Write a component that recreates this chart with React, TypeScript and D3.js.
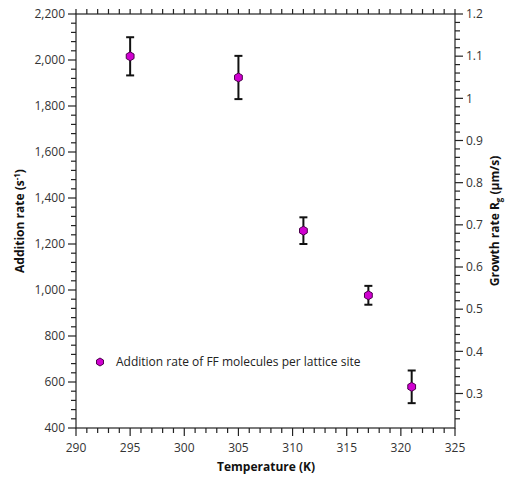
import React from "react";
import * as d3 from "d3";

const temperatures = [295, 305, 311, 317, 321];
const additionRates = [2016, 1924, 1258, 977, 579];
const errors = [83, 94, 58, 41, 71];
const legendLabel = "Addition rate of FF molecules per lattice site";
const xTicks = [290, 295, 300, 305, 310, 315, 320, 325];
const yTicks = [400, 600, 800, 1000, 1200, 1400, 1600, 1800, 2000, 2200];
const y2Ticks = [0.3, 0.4, 0.5, 0.6, 0.7, 0.8, 0.9, 1.0, 1.1, 1.2];

const W = 506, H = 478;
const L = 76, R = 455, T = 14, B = 428;

export default function App() {
  const x = d3.scaleLinear().domain([290, 325]).range([L, R]);
  const y = d3.scaleLinear().domain([400, 2200]).range([B, T]);
  const y2 = d3.scaleLinear().domain([400 * 1.2 / 2200, 1.2]).range([B, T]);
  const fmt = d3.format(",");
  const xMinor = d3.range(290, 325.01, 1);
  const yMinor = d3.range(400, 2200.01, 40);
  const y2Minor = d3.range(0.24, 1.2001, 0.02);
  const font = "'Open Sans', 'Noto Sans', sans-serif";
  const tickColor = "#333";
  const hex = (cx: number, cy: number, r: number) =>
    d3.range(6).map(i => {
      const a = Math.PI / 6 + (i * Math.PI) / 3;
      return `${cx + r * Math.cos(a)},${cy + r * Math.sin(a)}`;
    }).join(" ");

  return (
    <svg width={W} height={H} style={{ position: "absolute", left: 0, top: 0, background: "#fff" }} fontFamily={font}>
      <rect x={0} y={0} width={W} height={H} fill="#fff" />
      {/* frame */}
      <rect x={L} y={T} width={R - L} height={B - T} fill="none" stroke="#222" strokeWidth={1.2} />
      {/* bottom minor + major ticks */}
      {xMinor.map(v => (
        <line key={"xb" + v} x1={x(v)} x2={x(v)} y1={B} y2={B + (v % 5 === 0 ? 8 : 5)} stroke="#222" strokeWidth={1.2} />
      ))}
      {xMinor.map(v => (
        <line key={"xt" + v} x1={x(v)} x2={x(v)} y1={T} y2={T - 5} stroke="#222" strokeWidth={1.2} />
      ))}
      {xTicks.map(v => (
        <text key={"xl" + v} x={x(v)} y={B + 24} textAnchor="middle" fontSize={12} fill={tickColor}>{v}</text>
      ))}
      {/* left ticks */}
      {yMinor.map(v => (
        <line key={"yl" + v} x1={L} x2={L - (v % 200 === 0 ? 8 : 5)} y1={y(v)} y2={y(v)} stroke="#222" strokeWidth={1.2} />
      ))}
      {yTicks.map(v => (
        <text key={"ylt" + v} x={L - 11} y={y(v)} dy="0.35em" textAnchor="end" fontSize={12} fill={tickColor}>{fmt(v)}</text>
      ))}
      {/* right ticks */}
      {y2Minor.map((v, i) => {
        const major = Math.abs(Math.round(v * 10) - v * 10) < 1e-6;
        return <line key={"yr" + i} x1={R} x2={R + (major ? 8 : 5)} y1={y2(v)} y2={y2(v)} stroke="#222" strokeWidth={1.2} />;
      })}
      {y2Ticks.map(v => (
        <text key={"yrt" + v} x={R + 11} y={y2(v)} dy="0.35em" textAnchor="start" fontSize={12} fill={tickColor}>{d3.format("")(+v.toFixed(1))}</text>
      ))}
      {/* axis titles */}
      <text x={266} y={471} textAnchor="middle" fontSize={12} fontWeight="bold" fill="#111">Temperature (K)</text>
      <text transform={`translate(24,${(T + B) / 2}) rotate(-90)`} textAnchor="middle" fontSize={12} fontWeight="bold" fill="#111">
        Addition rate (s<tspan dy={-4} fontSize={8}>-1</tspan><tspan dy={4}>)</tspan>
      </text>
      <text transform={`translate(499,${(T + B) / 2}) rotate(-90)`} textAnchor="middle" fontSize={12} fontWeight="bold" fill="#111">
        Growth rate R<tspan dy={3} fontSize={8}>g</tspan><tspan dy={-3}> (μm/s)</tspan>
      </text>
      {/* error bars and points */}
      {temperatures.map((t, i) => {
        const cx = x(t);
        const top = y(additionRates[i] + errors[i]);
        const bot = y(additionRates[i] - errors[i]);
        return (
          <g key={"p" + i}>
            <line x1={cx} x2={cx} y1={top} y2={bot} stroke="#111" strokeWidth={2} />
            <line x1={cx - 4} x2={cx + 4} y1={top} y2={top} stroke="#111" strokeWidth={2} />
            <line x1={cx - 4} x2={cx + 4} y1={bot} y2={bot} stroke="#111" strokeWidth={2} />
            <polygon points={hex(cx, y(additionRates[i]), 4.5)} fill="#d000d0" stroke="#4a004a" strokeWidth={1} />
          </g>
        );
      })}
      {/* legend */}
      <polygon points={hex(100, 362, 4)} fill="#d000d0" stroke="#4a004a" strokeWidth={1} />
      <text x={116} y={362} dy="0.35em" fontSize={12} fill="#222">{legendLabel}</text>
    </svg>
  );
}
